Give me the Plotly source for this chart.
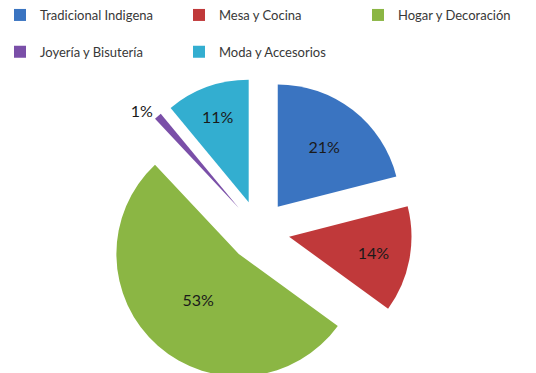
import plotly.graph_objects as go

# Share of products by line
categories = ["Tradicional Indigena", "Mesa y Cocina", "Hogar y Decoración",
              "Joyería y Bisutería", "Moda y Accesorios"]
shares = [21, 14, 53, 1, 11]
colors = ["#3a74c1", "#c0393a", "#8bb644", "#7a4fa8", "#33aed0"]
text_positions = ["inside", "inside", "inside", "outside", "inside"]

# blank second line gives the legend rows their taller spacing
legend_names = [c + "<br> " for c in categories]

fig = go.Figure(
    go.Pie(
        labels=legend_names,
        values=shares,
        sort=False,
        direction="clockwise",
        rotation=0,
        pull=[0.25] * len(shares),
        marker=dict(colors=colors, line=dict(width=0)),
        texttemplate="%{percent:.0%}",
        textposition=text_positions,
        insidetextorientation="horizontal",
        textfont=dict(family="Lato", size=16, color="#1a1a1a"),
        hoverinfo="skip",
        domain=dict(x=[0.1978, 0.7687], y=[0, 1]),
    )
)

fig.update_layout(
    width=536,
    height=384,
    margin=dict(l=0, r=0, t=78, b=0, autoexpand=False),
    paper_bgcolor="white",
    plot_bgcolor="white",
    font=dict(family="Lato", size=13, color="#383838"),
    showlegend=True,
    legend=dict(
        orientation="h",
        x=0.0,
        xanchor="left",
        y=1.0,
        yanchor="top",
        yref="container",
        valign="top",
        bgcolor="rgba(0,0,0,0)",
        entrywidth=134,
        entrywidthmode="pixels",
        font=dict(family="Lato", size=13, color="#383838"),
    ),
)

fig.write_html(
    "out.html",
    post_script="document.documentElement.style.overflow='hidden';document.body.style.overflow='hidden';",
)
